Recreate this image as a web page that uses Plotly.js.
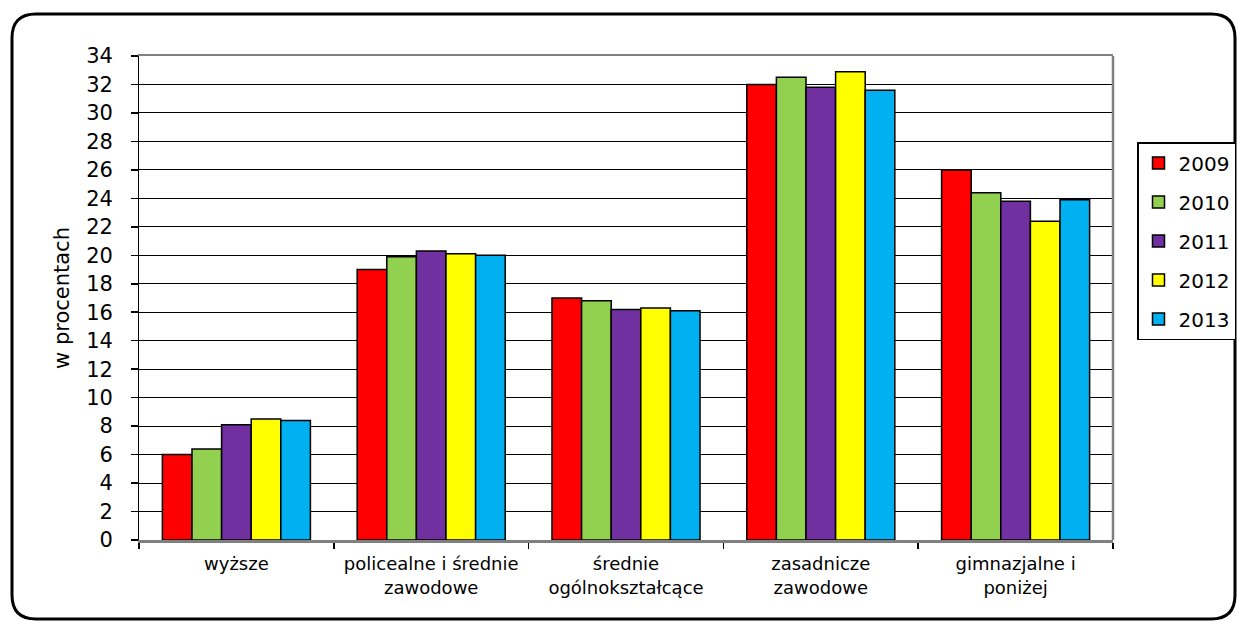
<!DOCTYPE html>
<html>
<head>
<meta charset="utf-8">
<script src="https://cdn.plot.ly/plotly-3.0.1.min.js"></script>
<style>html,body{margin:0;padding:0;background:#fff;}#chart{width:1237px;height:621px;}</style>
</head>
<body>
<div id="chart"></div>
<script>
const categories = ["wyższe", "policealne i średnie<br>zawodowe", "średnie<br>ogólnokształcące", "zasadnicze<br>zawodowe", "gimnazjalne i<br>poniżej"];
const years = ["2009", "2010", "2011", "2012", "2013"];
const v2009 = [6.0, 19.0, 17.0, 32.0, 26.0];
const v2010 = [6.4, 19.9, 16.8, 32.5, 24.4];
const v2011 = [8.1, 20.3, 16.2, 31.8, 23.8];
const v2012 = [8.5, 20.1, 16.3, 32.9, 22.4];
const v2013 = [8.4, 20.0, 16.1, 31.6, 23.9];
const seriesValues = [v2009, v2010, v2011, v2012, v2013];
const colors = ["#FF0000", "#92D050", "#7030A0", "#FFFF00", "#00B0F0"];
const yTicks = [0,2,4,6,8,10,12,14,16,18,20,22,24,26,28,30,32,34];

const W = 1237, H = 621;
const M = {l: 139, r: 124, t: 56, b: 81, autoexpand: false};
const pw = W - M.l - M.r, ph = H - M.t - M.b;
function px(x){ return (x - M.l) / pw; }
function py(y){ return (H - M.b - y) / ph; }

// rounded frame in paper coords
function framePath(x0, y0, x1, y1, r){
  const p = (x, y) => px(x).toFixed(5) + "," + py(y).toFixed(5);
  return "M" + p(x0 + r, y0) + " L" + p(x1 - r, y0) + " Q" + p(x1, y0) + " " + p(x1, y0 + r) +
    " L" + p(x1, y1 - r) + " Q" + p(x1, y1) + " " + p(x1 - r, y1) +
    " L" + p(x0 + r, y1) + " Q" + p(x0, y1) + " " + p(x0, y1 - r) +
    " L" + p(x0, y0 + r) + " Q" + p(x0, y0) + " " + p(x0 + r, y0) + " Z";
}

const traces = years.map((yr, i) => ({
  type: "bar",
  name: yr,
  x: categories,
  y: seriesValues[i],
  legendgroup: "g" + i,
  marker: {color: colors[i], line: {color: "#000", width: 1.5}},
  hoverinfo: "skip"
}));

const layout = {
  width: W, height: H,
  margin: M,
  paper_bgcolor: "#fff", plot_bgcolor: "#fff",
  font: {family: "DejaVu Sans", color: "#000"},
  barmode: "group",
  bargap: 0.24,
  bargroupgap: 0,
  showlegend: true,
  legend: {
    x: px(1137), y: py(142), xanchor: "left", yanchor: "top",
    bordercolor: "#000", borderwidth: 1.5, bgcolor: "#fff",
    font: {family: "DejaVu Sans", size: 20, color: "#000"},
    traceorder: "grouped", tracegroupgap: 10, itemwidth: 30
  },
  xaxis: {
    type: "category",
    showline: true, linecolor: "#808080", linewidth: 2.5, mirror: true,
    ticks: "outside", tickson: "boundaries", ticklen: 6, tickcolor: "#000", tickwidth: 1.5,
    ticklabelstandoff: 6,
    tickfont: {family: "DejaVu Sans", size: 18, color: "#000"},
    showgrid: false, fixedrange: true
  },
  yaxis: {
    range: [0, 34], tickvals: yTicks, ticktext: yTicks.map(v => v + "\u00a0\u00a0"),
    showline: true, linecolor: "#000", linewidth: 1.5,
    ticks: "outside", ticklen: 7, tickcolor: "#000", tickwidth: 1.5,
    tickfont: {family: "DejaVu Sans", size: 21, color: "#000"},
    showgrid: true, gridcolor: "#000", gridwidth: 1,
    zeroline: false,
    title: {text: "w procentach", font: {family: "DejaVu Sans", size: 21, color: "#000"}, standoff: 11},
    fixedrange: true
  },
  shapes: [
    {type: "line", xref: "paper", yref: "paper", x0: 1, x1: 1, y0: 0, y1: 1, line: {color: "#808080", width: 2.5}},
    {type: "path", xref: "paper", yref: "paper", path: framePath(12, 14, 1235, 619, 24), line: {color: "#000", width: 3}, fillcolor: "rgba(0,0,0,0)", layer: "above"}
  ]
};

Plotly.newPlot("chart", traces, layout, {displayModeBar: false, staticPlot: true});
</script>
</body>
</html>
